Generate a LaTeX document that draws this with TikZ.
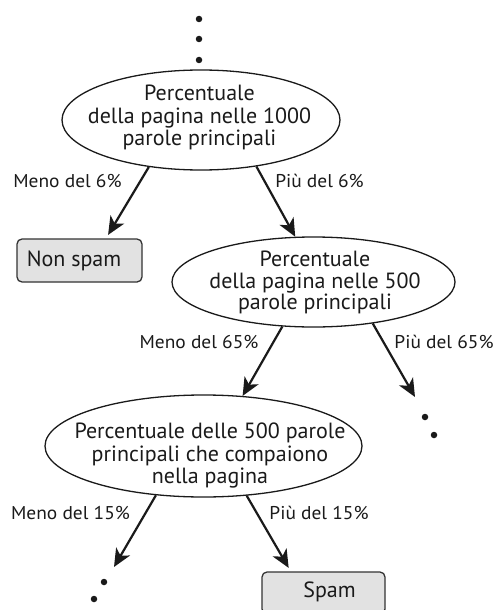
\documentclass[tikz,border=0pt]{standalone}
\usepackage{fontspec}
\setmainfont{PT Sans}
\newfontfamily\branchfont[FakeStretch=1.05]{PT Sans}
\usetikzlibrary{shapes.geometric,arrows.meta,calc}
\definecolor{ink}{HTML}{1A1A1A}
\definecolor{boxfill}{HTML}{E2E2E2}
\definecolor{boxline}{HTML}{333333}
\tikzset{
  question/.style={ellipse, draw=ink, line width=1.3pt, inner sep=0pt},
  qtext/.style={align=center, inner sep=0pt, text=ink,
    font=\fontsize{22}{22.5}\selectfont},
  leaf/.style={rectangle, rounded corners=5pt, draw=boxline, line width=1.3pt,
    fill=boxfill, inner sep=0pt},
  ltext/.style={inner sep=0pt, text=ink, font=\fontsize{22}{22.5}\selectfont},
  branch/.style={font=\branchfont\fontsize{18.5}{20}\selectfont, text=ink, inner sep=0pt},
  arr/.style={draw=ink, line width=2.2pt,
    -{Stealth[length=18pt,width=16pt,inset=5pt]}},
  dot/.style={circle, fill=ink, inner sep=0pt, minimum size=6.5pt}
}
\begin{document}
\begin{tikzpicture}[x=1pt,y=-1pt]
\useasboundingbox (0,0) rectangle (496,610);

% continuation dots above the root
\node[dot] (d1) at (199,19) {};
\node[dot] (d2) at (199,39) {};
\node[dot] (d3) at (199,60) {};

% decision nodes
\node[question, minimum width=278pt, minimum height=100pt] (e1) at (201,120) {};
\node[qtext] (e1t) at (199.5,117.8) {Percentuale\\della pagina nelle 1000\\parole principali};
\node[question, minimum width=283pt, minimum height=90pt] (e2) at (313.5,282) {};
\node[qtext, font=\fontsize{22}{21.5}\selectfont] (e2t) at (315,282.5)
  {Percentuale\\della pagina nelle 500\\parole principali};
\node[question, minimum width=317pt, minimum height=102pt] (e3) at (203.5,446) {};
\node[qtext] (e3t) at (210,455.8) {Percentuale delle 500 parole\\principali che compaiono\\nella pagina};

% leaves
\node[leaf, minimum width=125pt, minimum height=43pt] (ns) at (79.5,260.5) {};
\node[ltext] (nst) at (74,261) {Non spam};
\node[leaf, minimum width=123pt, minimum height=42pt] (sp) at (323.5,593) {};
\node[ltext] (spt) at (329.5,592) {Spam};

% open ends of the tree
\coordinate (r2end) at (415,397);
\coordinate (l3end) at (114,567);
\node[dot] (d4) at (425,417) {};
\node[dot] (d5) at (434,435) {};
\node[dot] (d6) at (104,582) {};
\node[dot] (d7) at (94,599) {};

% branches
\draw[arr, shorten >=4pt] (e1.222) -- ($(ns.north west)!0.71!(ns.north east)$);
\draw[arr] (e1.320) -- (e2.112);
\draw[arr] (e2.235) -- (e3.52);
\draw[arr] (e2.325) -- (r2end);
\draw[arr] (e3.226) -- (l3end);
\draw[arr, shorten >=4pt] (e3.311) -- ($(sp.north west)!0.236!(sp.north east)$);

% branch labels
\node[branch] (l1) at (67.5,181) {Meno del 6\%};
\node[branch] (r1) at (319.5,181) {Più del 6\%};
\node[branch] (l2) at (199,342) {Meno del 65\%};
\node[branch] (r2) at (444,342) {Più del 65\%};
\node[branch] (l3) at (70.5,513) {Meno del 15\%};
\node[branch] (r3) at (319,513) {Più del 15\%};
\end{tikzpicture}
\end{document}
